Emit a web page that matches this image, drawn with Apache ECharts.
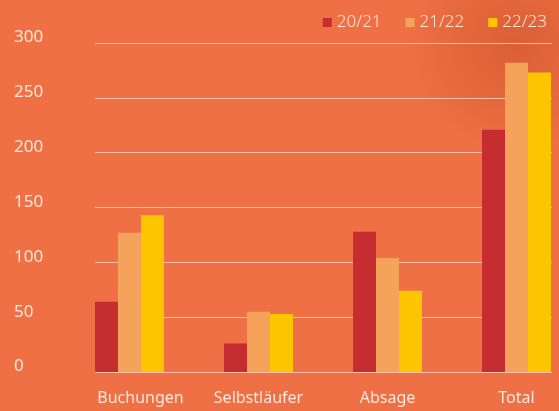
<!DOCTYPE html>
<html>
<head>
<meta charset="utf-8">
<script src="https://cdn.jsdelivr.net/npm/echarts@6/dist/echarts.min.js"></script>
<style>
  html, body { margin: 0; padding: 0; background: #ee7044; }
  #chart { width: 559px; height: 411px; }
</style>
</head>
<body>
<div id="chart"></div>
<script>
// Kategorien und Saisonwerte
var categories = ['Buchungen', 'Selbstläufer', 'Absage', 'Total']
var seasons = ['20/21', '21/22', '22/23']
var values2021 = [64, 26, 128, 221]
var values2122 = [127, 55, 104, 282]
var values2223 = [143, 53, 74, 273]
var colors = ['#c62d30', '#f5a35b', '#fdc500']

var chart = echarts.init(document.getElementById('chart'))
var txt = '#fde6da'
var font = 'Noto Sans'

// erste Beschriftung sitzt im Original etwas weiter rechts
var catData = categories.map(function (c, i) {
  return i === 0 ? { value: c, textStyle: { padding: [0, 0, 0, 22] } } : c
})

var option = {
  backgroundColor: '#ee7044',
  animation: false,
  graphic: [
    { // dunkler Schatten oben rechts
      type: 'circle',
      z: -10,
      shape: { cx: 515, cy: 45, r: 110 },
      style: {
        fill: new echarts.graphic.RadialGradient(0.5, 0.5, 0.5, [
          { offset: 0, color: 'rgba(190,70,30,0.4)' },
          { offset: 1, color: 'rgba(190,70,30,0)' }
        ])
      }
    }
  ],
  legend: {
    data: seasons,
    right: 7,
    top: 9,
    icon: 'rect',
    itemWidth: 9,
    itemHeight: 9,
    itemGap: 24,
    textStyle: { color: txt, fontSize: 17, fontFamily: font, fontWeight: 300 }
  },
  grid: [
    // Balken
    { left: 65, width: 516, top: 43, bottom: 39, outerBoundsMode: 'none', containLabel: false },
    // Gitterlinien + Achsenbeschriftung
    { left: 95, right: 7, top: 43, bottom: 39, outerBoundsMode: 'none', containLabel: false }
  ],
  xAxis: [
    {
      type: 'category',
      gridIndex: 0,
      data: catData,
      axisLine: { show: false },
      axisTick: { show: false },
      axisLabel: { color: txt, fontSize: 16, fontFamily: font, margin: 18 }
    },
    {
      type: 'category',
      gridIndex: 1,
      data: categories,
      show: false
    }
  ],
  yAxis: [
    {
      type: 'value',
      gridIndex: 0,
      min: 0,
      max: 300,
      interval: 50,
      show: false
    },
    {
      type: 'value',
      gridIndex: 1,
      min: 0,
      max: 300,
      interval: 50,
      axisLine: { show: false },
      axisTick: { show: false },
      axisLabel: {
        color: txt,
        fontSize: 17,
        fontFamily: font,
        align: 'left',
        margin: 81,
        verticalAlign: 'bottom',
        padding: [0, 0, -3, 0]
      },
      splitLine: { lineStyle: { color: 'rgba(255,235,225,0.65)', width: 1 } }
    }
  ],
  series: [
    { name: seasons[0], type: 'bar', data: values2021, barWidth: 23, barGap: '0%', itemStyle: { color: colors[0] } },
    { name: seasons[1], type: 'bar', data: values2122, barWidth: 23, barGap: '0%', itemStyle: { color: colors[1] } },
    { name: seasons[2], type: 'bar', data: values2223, barWidth: 23, barGap: '0%', itemStyle: { color: colors[2] } }
  ]
}
chart.setOption(option)
</script>
</body>
</html>
